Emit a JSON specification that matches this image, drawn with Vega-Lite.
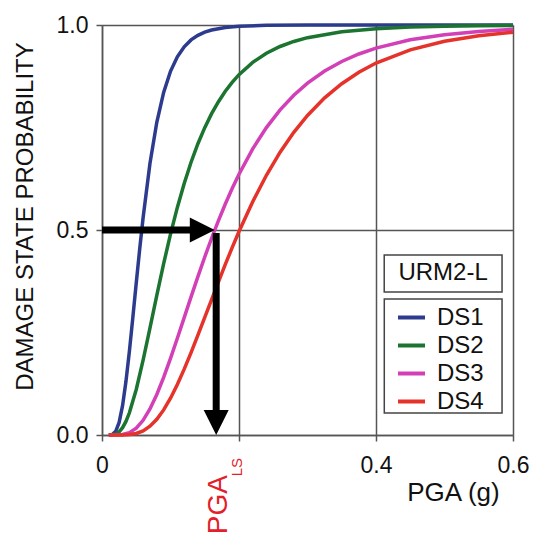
{
  "$schema": "https://vega.github.io/schema/vega-lite/v6.json",
  "width": 411,
  "height": 410,
  "autosize": {"type": "none"},
  "padding": {"left": 102, "top": 25, "right": 20, "bottom": 99},
  "background": "white",
  "config": {
    "view": {"stroke": null},
    "font": "Liberation Sans",
    "axis": {"gridColor": "#555555", "gridWidth": 1.5, "gridOpacity": 1, "domainColor": "#555555", "domainWidth": 1.5, "tickColor": "#555555", "tickWidth": 1.5, "tickSize": 6, "labelColor": "#111111", "titleColor": "#111111", "labelFont": "Liberation Sans", "titleFont": "Liberation Sans", "titleFontWeight": "normal"}
  },
  "datasets": {
    "curves": [
      {"ds": "DS1", "pga": 0.01, "p": 0}, {"ds": "DS1", "pga": 0.015, "p": 0.0013}, {"ds": "DS1", "pga": 0.02, "p": 0.009}, {"ds": "DS1", "pga": 0.025, "p": 0.0307}, {"ds": "DS1", "pga": 0.03, "p": 0.0715}, {"ds": "DS1", "pga": 0.035, "p": 0.1309}, {"ds": "DS1", "pga": 0.04, "p": 0.2044}, {"ds": "DS1", "pga": 0.045, "p": 0.2864}, {"ds": "DS1", "pga": 0.05, "p": 0.3707}, {"ds": "DS1", "pga": 0.055, "p": 0.453}, {"ds": "DS1", "pga": 0.06, "p": 0.53}, {"ds": "DS1", "pga": 0.07, "p": 0.662}, {"ds": "DS1", "pga": 0.08, "p": 0.7626}, {"ds": "DS1", "pga": 0.09, "p": 0.8355}, {"ds": "DS1", "pga": 0.1, "p": 0.887}, {"ds": "DS1", "pga": 0.11, "p": 0.9225}, {"ds": "DS1", "pga": 0.12, "p": 0.9469}, {"ds": "DS1", "pga": 0.13, "p": 0.9636}, {"ds": "DS1", "pga": 0.14, "p": 0.9749}, {"ds": "DS1", "pga": 0.15, "p": 0.9826}, {"ds": "DS1", "pga": 0.16, "p": 0.9879}, {"ds": "DS1", "pga": 0.18, "p": 0.9941}, {"ds": "DS1", "pga": 0.2, "p": 0.997}, {"ds": "DS1", "pga": 0.24, "p": 0.9992}, {"ds": "DS1", "pga": 0.3, "p": 0.9999}, {"ds": "DS1", "pga": 0.4, "p": 1}, {"ds": "DS1", "pga": 0.5, "p": 1}, {"ds": "DS1", "pga": 0.6, "p": 1},
      {"ds": "DS2", "pga": 0.01, "p": 0}, {"ds": "DS2", "pga": 0.015, "p": 0.0005}, {"ds": "DS2", "pga": 0.02, "p": 0.0026}, {"ds": "DS2", "pga": 0.025, "p": 0.0078}, {"ds": "DS2", "pga": 0.03, "p": 0.0178}, {"ds": "DS2", "pga": 0.035, "p": 0.0332}, {"ds": "DS2", "pga": 0.04, "p": 0.0542}, {"ds": "DS2", "pga": 0.05, "p": 0.1111}, {"ds": "DS2", "pga": 0.06, "p": 0.1824}, {"ds": "DS2", "pga": 0.07, "p": 0.2609}, {"ds": "DS2", "pga": 0.08, "p": 0.3408}, {"ds": "DS2", "pga": 0.09, "p": 0.4179}, {"ds": "DS2", "pga": 0.1, "p": 0.4897}, {"ds": "DS2", "pga": 0.11, "p": 0.5551}, {"ds": "DS2", "pga": 0.12, "p": 0.6136}, {"ds": "DS2", "pga": 0.13, "p": 0.6652}, {"ds": "DS2", "pga": 0.14, "p": 0.7104}, {"ds": "DS2", "pga": 0.15, "p": 0.7497}, {"ds": "DS2", "pga": 0.16, "p": 0.7837}, {"ds": "DS2", "pga": 0.17, "p": 0.813}, {"ds": "DS2", "pga": 0.18, "p": 0.8384}, {"ds": "DS2", "pga": 0.19, "p": 0.8602}, {"ds": "DS2", "pga": 0.2, "p": 0.8789}, {"ds": "DS2", "pga": 0.22, "p": 0.9089}, {"ds": "DS2", "pga": 0.24, "p": 0.9311}, {"ds": "DS2", "pga": 0.26, "p": 0.9476}, {"ds": "DS2", "pga": 0.28, "p": 0.9599}, {"ds": "DS2", "pga": 0.3, "p": 0.9691}, {"ds": "DS2", "pga": 0.35, "p": 0.9836}, {"ds": "DS2", "pga": 0.4, "p": 0.991}, {"ds": "DS2", "pga": 0.45, "p": 0.9949}, {"ds": "DS2", "pga": 0.5, "p": 0.997}, {"ds": "DS2", "pga": 0.55, "p": 0.9982}, {"ds": "DS2", "pga": 0.6, "p": 0.9989},
      {"ds": "DS3", "pga": 0.01, "p": 0}, {"ds": "DS3", "pga": 0.02, "p": 0.0001}, {"ds": "DS3", "pga": 0.03, "p": 0.0012}, {"ds": "DS3", "pga": 0.04, "p": 0.0058}, {"ds": "DS3", "pga": 0.05, "p": 0.0167}, {"ds": "DS3", "pga": 0.06, "p": 0.0358}, {"ds": "DS3", "pga": 0.07, "p": 0.0634}, {"ds": "DS3", "pga": 0.08, "p": 0.0988}, {"ds": "DS3", "pga": 0.09, "p": 0.1405}, {"ds": "DS3", "pga": 0.1, "p": 0.1868}, {"ds": "DS3", "pga": 0.11, "p": 0.2359}, {"ds": "DS3", "pga": 0.12, "p": 0.2863}, {"ds": "DS3", "pga": 0.13, "p": 0.3368}, {"ds": "DS3", "pga": 0.14, "p": 0.3863}, {"ds": "DS3", "pga": 0.15, "p": 0.4342}, {"ds": "DS3", "pga": 0.16, "p": 0.4799}, {"ds": "DS3", "pga": 0.17, "p": 0.523}, {"ds": "DS3", "pga": 0.18, "p": 0.5635}, {"ds": "DS3", "pga": 0.19, "p": 0.6012}, {"ds": "DS3", "pga": 0.2, "p": 0.6361}, {"ds": "DS3", "pga": 0.22, "p": 0.6979}, {"ds": "DS3", "pga": 0.24, "p": 0.7497}, {"ds": "DS3", "pga": 0.26, "p": 0.7929}, {"ds": "DS3", "pga": 0.28, "p": 0.8286}, {"ds": "DS3", "pga": 0.3, "p": 0.8581}, {"ds": "DS3", "pga": 0.325, "p": 0.8878}, {"ds": "DS3", "pga": 0.35, "p": 0.9111}, {"ds": "DS3", "pga": 0.375, "p": 0.9293}, {"ds": "DS3", "pga": 0.4, "p": 0.9436}, {"ds": "DS3", "pga": 0.45, "p": 0.9638}, {"ds": "DS3", "pga": 0.5, "p": 0.9764}, {"ds": "DS3", "pga": 0.55, "p": 0.9844}, {"ds": "DS3", "pga": 0.6, "p": 0.9896},
      {"ds": "DS4", "pga": 0.01, "p": 0}, {"ds": "DS4", "pga": 0.02, "p": 0}, {"ds": "DS4", "pga": 0.03, "p": 0.0001}, {"ds": "DS4", "pga": 0.04, "p": 0.001}, {"ds": "DS4", "pga": 0.05, "p": 0.0037}, {"ds": "DS4", "pga": 0.06, "p": 0.01}, {"ds": "DS4", "pga": 0.07, "p": 0.0213}, {"ds": "DS4", "pga": 0.08, "p": 0.0382}, {"ds": "DS4", "pga": 0.09, "p": 0.0612}, {"ds": "DS4", "pga": 0.1, "p": 0.0897}, {"ds": "DS4", "pga": 0.11, "p": 0.1232}, {"ds": "DS4", "pga": 0.12, "p": 0.1606}, {"ds": "DS4", "pga": 0.13, "p": 0.201}, {"ds": "DS4", "pga": 0.14, "p": 0.2434}, {"ds": "DS4", "pga": 0.15, "p": 0.2868}, {"ds": "DS4", "pga": 0.16, "p": 0.3304}, {"ds": "DS4", "pga": 0.17, "p": 0.3737}, {"ds": "DS4", "pga": 0.18, "p": 0.416}, {"ds": "DS4", "pga": 0.19, "p": 0.457}, {"ds": "DS4", "pga": 0.2, "p": 0.4962}, {"ds": "DS4", "pga": 0.22, "p": 0.569}, {"ds": "DS4", "pga": 0.24, "p": 0.6335}, {"ds": "DS4", "pga": 0.26, "p": 0.6897}, {"ds": "DS4", "pga": 0.28, "p": 0.7381}, {"ds": "DS4", "pga": 0.3, "p": 0.7794}, {"ds": "DS4", "pga": 0.325, "p": 0.8223}, {"ds": "DS4", "pga": 0.35, "p": 0.8569}, {"ds": "DS4", "pga": 0.375, "p": 0.8848}, {"ds": "DS4", "pga": 0.4, "p": 0.9072}, {"ds": "DS4", "pga": 0.45, "p": 0.9394}, {"ds": "DS4", "pga": 0.5, "p": 0.9602}, {"ds": "DS4", "pga": 0.55, "p": 0.9736}, {"ds": "DS4", "pga": 0.6, "p": 0.9823}
    ],
    "shafts": [
      {"x": 0, "x2": 0.135, "y": 0.5, "y2": 0.5},
      {"x": 0.1667, "x2": 0.1667, "y": 0.4927, "y2": 0.045}
    ],
    "headRight": [{"x": 0.1464, "y": 0.5}],
    "headDown": [{"x": 0.1667, "y": 0.0305}],
    "pgaLabel": [{"x": 0.183, "y": -0.0976, "t": "PGA"}],
    "lsLabel": [{"x": 0.2039, "y": -0.0561, "t": "LS"}],
    "box": [{"x": 0.412, "x2": 0.584, "y": 0.439, "y2": 0.349, "xc": 0.498, "yc": 0.394, "t": "URM2-L"}],
    "legendBox": [{"x": 0.4121, "x2": 0.584, "y": 0.3317, "y2": 0.0537}]
  },
  "layer": [
    {
      "data": {"name": "legendBox"},
      "mark": {"type": "rect", "fill": "white", "stroke": "#444444", "strokeWidth": 1.5},
      "encoding": {
        "x": {"field": "x", "type": "quantitative", "scale": {"domain": [0, 0.6], "nice": false}},
        "x2": {"field": "x2"},
        "y": {"field": "y", "type": "quantitative", "scale": {"domain": [0, 1], "nice": false}},
        "y2": {"field": "y2"}
      }
    },
    {
      "data": {"name": "curves"},
      "mark": {"type": "line", "strokeWidth": 3.5, "clip": false},
      "encoding": {
        "x": {"field": "pga", "type": "quantitative", "scale": {"domain": [0, 0.6], "nice": false},
          "axis": {"values": [0, 0.2, 0.4, 0.6], "grid": true, "labelFontSize": 23, "labelPadding": 13,
            "labelExpr": "datum.value == 0 ? '0' : (abs(datum.value - 0.2) < 0.001 ? '' : format(datum.value, '.1f'))",
            "title": "PGA (g)", "titleFontSize": 26, "titleX": 351, "titleY": 65, "titleBaseline": "alphabetic", "titleAlign": "center", "labelFlush": false}},
        "y": {"field": "p", "type": "quantitative", "scale": {"domain": [0, 1], "nice": false},
          "axis": {"values": [0, 0.5, 1], "grid": true, "format": ".1f", "labelFontSize": 23, "labelPadding": 8,
            "title": "DAMAGE STATE PROBABILITY", "titleFontSize": 24, "titleX": -70, "titleY": 191, "titleBaseline": "alphabetic", "titleAlign": "center", "titleAngle": 270, "labelFlush": false}},
        "color": {"field": "ds", "type": "nominal",
          "scale": {"domain": ["DS1", "DS2", "DS3", "DS4"], "range": ["#2d3b8e", "#1b7430", "#d23fb6", "#e5322a"]},
          "legend": {"title": null, "orient": "none", "legendX": 283, "legendY": 274, "padding": 3,
            "symbolType": "stroke", "symbolSize": 729, "symbolStrokeWidth": 4, "symbolOffset": 8,
            "labelFontSize": 24, "labelOffset": 10, "labelColor": "#111111", "rowPadding": 0}}
      }
    },
    {
      "data": {"name": "shafts"},
      "mark": {"type": "rule", "strokeWidth": 7, "color": "black", "strokeCap": "butt"},
      "encoding": {
        "x": {"field": "x", "type": "quantitative"},
        "x2": {"field": "x2"},
        "y": {"field": "y", "type": "quantitative"},
        "y2": {"field": "y2"}
      }
    },
    {
      "data": {"name": "headRight"},
      "mark": {"type": "point", "shape": "M-1,-1L1,0L-1,1Z", "filled": true, "color": "black", "opacity": 1, "size": 625},
      "encoding": {
        "x": {"field": "x", "type": "quantitative"},
        "y": {"field": "y", "type": "quantitative"}
      }
    },
    {
      "data": {"name": "headDown"},
      "mark": {"type": "point", "shape": "M-1,-1L1,-1L0,1Z", "filled": true, "color": "black", "opacity": 1, "size": 625},
      "encoding": {
        "x": {"field": "x", "type": "quantitative"},
        "y": {"field": "y", "type": "quantitative"}
      }
    },
    {
      "data": {"name": "pgaLabel"},
      "mark": {"type": "text", "angle": 270, "align": "right", "baseline": "alphabetic", "fontSize": 28, "color": "#e3202a", "font": "Liberation Sans"},
      "encoding": {
        "x": {"field": "x", "type": "quantitative"},
        "y": {"field": "y", "type": "quantitative"},
        "text": {"field": "t"}
      }
    },
    {
      "data": {"name": "lsLabel"},
      "mark": {"type": "text", "angle": 270, "align": "right", "baseline": "alphabetic", "fontSize": 15, "color": "#e3202a", "font": "Liberation Sans"},
      "encoding": {
        "x": {"field": "x", "type": "quantitative"},
        "y": {"field": "y", "type": "quantitative"},
        "text": {"field": "t"}
      }
    },
    {
      "data": {"name": "box"},
      "mark": {"type": "rect", "fill": "white", "stroke": "#444444", "strokeWidth": 1.5},
      "encoding": {
        "x": {"field": "x", "type": "quantitative"},
        "x2": {"field": "x2"},
        "y": {"field": "y", "type": "quantitative"},
        "y2": {"field": "y2"}
      }
    },
    {
      "data": {"name": "box"},
      "mark": {"type": "text", "fontSize": 24, "color": "#111111", "align": "center", "baseline": "middle", "font": "Liberation Sans"},
      "encoding": {
        "x": {"field": "xc", "type": "quantitative"},
        "y": {"field": "yc", "type": "quantitative"},
        "text": {"field": "t"}
      }
    }
  ]
}
